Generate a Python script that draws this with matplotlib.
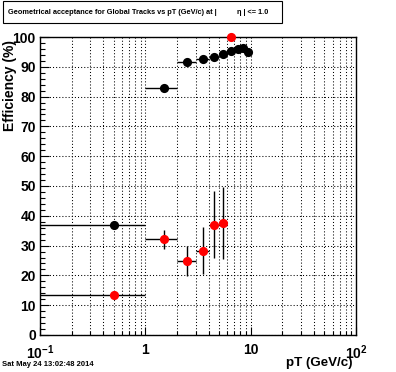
import numpy as np
import matplotlib
matplotlib.use("Agg")
from matplotlib import pyplot as plt
from matplotlib.ticker import LogLocator, MultipleLocator, NullFormatter
from matplotlib.patches import Rectangle

plt.rcParams["font.family"] = ["Liberation Sans", "DejaVu Sans"]
plt.rcParams["font.weight"] = "bold"
plt.rcParams["mathtext.fontset"] = "custom"
plt.rcParams["mathtext.rm"] = "Liberation Sans:bold"
plt.rcParams["mathtext.bf"] = "Liberation Sans:bold"

# black: first series, bins in pT (GeV/c)
black_x = [0.5, 1.5, 2.5, 3.5, 4.5, 5.5, 6.5, 7.5, 8.5, 9.5]
black_lo = [0.0, 1.0, 2.0, 3.0, 4.0, 5.0, 6.0, 7.0, 8.0, 9.0]
black_hi = [1.0, 2.0, 3.0, 4.0, 5.0, 6.0, 7.0, 8.0, 9.0, 10.0]
black_y = [37.0, 83.0, 91.7, 92.7, 93.4, 94.2, 95.3, 96.0, 96.2, 94.9]
black_yerr = [0.6, 0.8, 0.5, 0.5, 0.5, 0.5, 0.5, 0.5, 0.5, 0.5]

# red: second series
red_x = [0.5, 1.5, 2.5, 3.5, 4.5, 5.5, 6.5]
red_lo = [0.0, 1.0, 2.0, 3.0, 4.0, 5.0, 6.0]
red_hi = [1.0, 2.0, 3.0, 4.0, 5.0, 6.0, 7.0]
red_y = [13.4, 32.2, 24.8, 28.3, 37.0, 37.6, 100.0]
red_yerr = [0.4, 3.2, 5.0, 8.0, 11.2, 12.2, 0.0]

x_ticks = [0.1, 1, 10, 100]
x_ticklabels = [r"$10^{-1}$", "1", "10", r"$10^{2}$"]


def draw_series(ax, x, lo, hi, y, yerr, color):
    x = np.array(x)
    xerr = np.array([x - np.array(lo), np.array(hi) - x])
    ax.errorbar(x, y, xerr=xerr, yerr=yerr, fmt="none", ecolor="k",
                elinewidth=1.0, capsize=0, zorder=3)
    ax.plot(x, y, "o", color=color, markersize=6.6, markeredgewidth=0,
            zorder=4, clip_on=False)


fig = plt.figure(figsize=(3.96, 3.72), dpi=100)
ax = fig.add_axes([0.101, 0.0995, 0.798, 0.801])

ax.set_xscale("log")
ax.set_xlim(0.1, 100)
ax.set_ylim(0, 100)

draw_series(ax, black_x, black_lo, black_hi, black_y, black_yerr, "k")
draw_series(ax, red_x, red_lo, red_hi, red_y, red_yerr, "red")

ax.set_xticks(x_ticks)
ax.set_xticklabels(x_ticklabels)
ax.xaxis.set_minor_locator(LogLocator(base=10, subs=np.arange(2, 10)))
ax.xaxis.set_minor_formatter(NullFormatter())
ax.yaxis.set_major_locator(MultipleLocator(10))
ax.yaxis.set_minor_locator(MultipleLocator(2))

ax.tick_params(axis="both", which="both", direction="in", top=False,
               right=False, width=0.8, colors="k")
ax.tick_params(axis="y", which="major", length=6.5, pad=3, labelsize=10)
ax.tick_params(axis="y", which="minor", length=3.5)
ax.tick_params(axis="x", which="major", length=6, pad=6, labelsize=10)
ax.tick_params(axis="x", which="minor", length=3)

ax.grid(True, axis="x", which="both", color="k", linestyle=(0, (1, 2)),
        linewidth=0.75)
ax.grid(True, axis="y", which="major", color="k", linestyle=(0, (1, 2)),
        linewidth=0.75)
ax.set_axisbelow(True)
for s in ax.spines.values():
    s.set_linewidth(1.0)

# axis titles placed like ROOT does (right / top aligned)
fig.text(352 / 396, 1 - 363 / 372, "pT (GeV/c)", fontsize=9.6,
         fontweight="bold", ha="right", va="center")
fig.text(10.5 / 396, 1 - 40 / 372, "Efficiency (%)", fontsize=10,
         fontweight="bold", ha="center", va="top", rotation=90)

# title box
fig.patches.append(Rectangle((3 / 396, 1 - 23 / 372), 279 / 396, 22 / 372,
                             transform=fig.transFigure, facecolor="white",
                             edgecolor="k", linewidth=0.8))
fig.text(8 / 396, 1 - 12 / 372,
         "Geometrical acceptance for Global Tracks vs pT (GeV/c) at |",
         fontsize=5.3, fontweight="bold", va="center", ha="left")
fig.text(237 / 396, 1 - 12 / 372, "η | <= 1.0", fontsize=5.3,
         fontweight="bold", va="center", ha="left")

fig.text(2 / 396, 1 - 365 / 372, "Sat May 24 13:02:48 2014", fontsize=5.5,
         fontweight="bold", va="center", ha="left")

fig.savefig("out.png", dpi=100)
